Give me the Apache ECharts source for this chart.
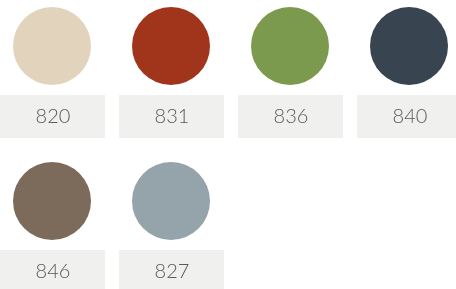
<!DOCTYPE html>
<html>
<head>
<meta charset="utf-8">
<script src="https://cdn.jsdelivr.net/npm/echarts@6/dist/echarts.min.js"></script>
<style>
  html, body { margin: 0; padding: 0; background: #fff; }
  #chart { width: 456px; height: 289px; }
</style>
</head>
<body>
<div id="chart"></div>
<script>
// swatch codes and their colours, in reading order
const codes = ['820', '831', '836', '840', '846', '827'];
const colors = ['#e2d3bd', '#a0351c', '#7b9a4d', '#38444f', '#7c6b5b', '#95a4aa'];
const perRow = 4;

const points = codes.map((c, i) => [i % perRow, Math.floor(i / perRow), c, colors[i]]);

const chart = echarts.init(document.getElementById('chart'));
chart.setOption({
  animation: false,
  grid: { left: 52, right: 47, top: 46, bottom: 88 },
  xAxis: { type: 'value', min: 0, max: 3, show: false },
  yAxis: { type: 'value', min: 0, max: 1, inverse: true, show: false },
  series: [
    {
      // label boxes under each swatch
      type: 'custom',
      clip: false,
      data: points,
      renderItem: (params, api) => {
        const p = api.coord([api.value(0), api.value(1)]);
        const cy = p[1] + 70;
        return {
          type: 'group',
          children: [
            {
              type: 'rect',
              shape: { x: p[0] - 52, y: cy - 21, width: 105, height: 43 },
              style: { fill: '#f0f0ef' }
            },
            {
              type: 'text',
              style: {
                x: p[0] + 1, y: cy + 1,
                text: codes[params.dataIndex],
                fill: '#5a5a5a',
                font: '300 20px Lato, "Open Sans", sans-serif',
                align: 'center', verticalAlign: 'middle'
              }
            }
          ]
        };
      }
    },
    {
      type: 'scatter',
      symbol: 'circle',
      symbolSize: 78,
      data: points.map(p => ({ value: [p[0], p[1]], itemStyle: { color: p[3] } })),
      itemStyle: { opacity: 1 }
    }
  ]
});
</script>
</body>
</html>
